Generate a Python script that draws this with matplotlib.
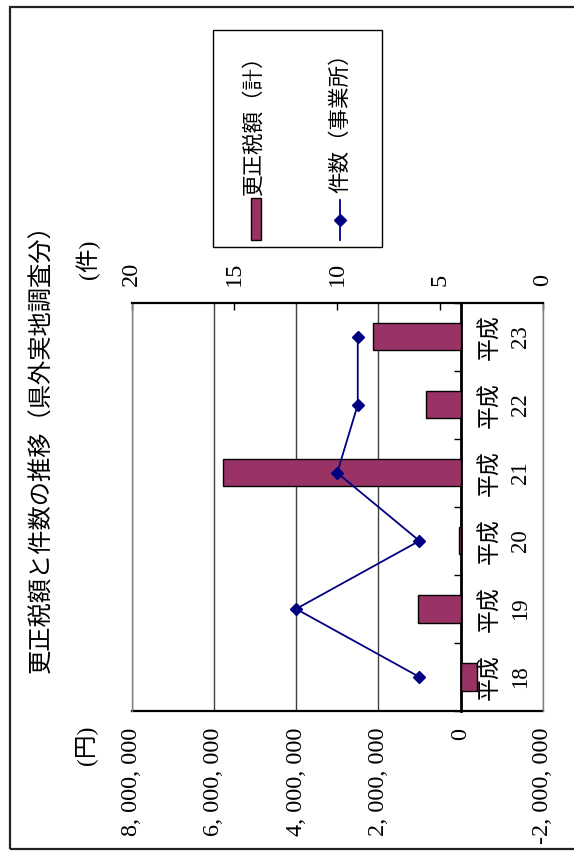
import numpy as np
import matplotlib
matplotlib.use("Agg")
import matplotlib.pyplot as plt
from matplotlib.patches import Rectangle
from matplotlib.lines import Line2D
from matplotlib.ticker import FixedLocator, FuncFormatter
from matplotlib.transforms import offset_copy

# ---- data -------------------------------------------------------------
categories = ["平成\n18", "平成\n19", "平成\n20", "平成\n21", "平成\n22", "平成\n23"]
tax_amount = [-405000, 1030000, 40000, 5770000, 830000, 2130000]   # 円
case_counts = [6, 12, 6, 10, 9, 9]                                  # 件
value_ticks = [-2000000, 0, 2000000, 4000000, 6000000, 8000000]
count_ticks = [0, 5, 10, 15, 20]

title = "更正税額と件数の推移（県外実地調査分）"
legend_labels = ["更正税額（計）", "件数（事業所）"]
unit_left = "(円)"
unit_right = "(件)"

# ---- styling ----------------------------------------------------------
BAR_COLOR = "#993366"
LINE_COLOR = "#000080"
CJK = ["Noto Sans CJK JP", "DejaVu Sans"]
NUM = ["Liberation Serif", "Noto Sans CJK JP"]
TICK_SIZE = 17.5

W, H = 574, 851
fig = plt.figure(figsize=(W / 100, H / 100), dpi=100)
fig.patch.set_facecolor("white")


def fx(px):
    return px / W


def fy(py):
    return 1 - py / H


def box(x0, y0, x1, y1):
    return [fx(x0), fy(y1), fx(x1) - fx(x0), fy(y0) - fy(y1)]


# outer chart frame
fig.add_artist(Rectangle((fx(10), fy(849)), fx(600) - fx(10), fy(7) - fy(849),
                         transform=fig.transFigure, fill=False,
                         edgecolor="#222222", lw=1.6))

# ---- main axes: amounts (horizontal bars, values grow to the left) ----
ax = fig.add_axes(box(131.7, 302.7, 542.7, 711))
pos = np.arange(len(categories))
ax.barh(pos, tax_amount, height=0.4, color=BAR_COLOR, edgecolor="black",
        lw=1.0, zorder=3)
ax.set_xlim(value_ticks[-1], value_ticks[0])
ax.set_ylim(-0.5, len(categories) - 0.5)

ax.xaxis.set_major_locator(FixedLocator(value_ticks))
ax.xaxis.set_major_formatter(
    FuncFormatter(lambda v, p: "{:,}".format(int(v)).replace(",", ", ")))
ax.tick_params(axis="x", which="major", direction="in", length=0, pad=12,
               labelsize=TICK_SIZE, labelrotation=90)
for t in ax.get_xticklabels():
    t.set_family(NUM)
ax.grid(axis="x", color="#404040", lw=1.0)
ax.set_axisbelow(True)

# category axis sits on the zero line
ax.spines["right"].set_position(("data", 0))
ax.spines["right"].set_color("black")
ax.spines["right"].set_linewidth(2.0)
ax.spines["left"].set_visible(False)
ax.spines["top"].set_visible(False)
ax.spines["bottom"].set_color("black")
ax.spines["bottom"].set_linewidth(1.6)
ax.yaxis.set_ticks_position("right")
ax.yaxis.set_major_locator(FixedLocator(np.arange(-0.5, len(categories), 1.0)))
ax.tick_params(axis="y", which="major", direction="in", length=5, width=1,
               labelright=False, labelleft=False)

label_tr = offset_copy(ax.transData, fig=fig, x=19, y=0, units="dots")
for i, lab in enumerate(categories):
    ax.text(0, pos[i], lab, transform=label_tr, rotation=90, ha="left",
            va="center", multialignment="center", fontsize=16.5,
            family=NUM, linespacing=1.5)

# ---- secondary axis: counts (line) ------------------------------------
ax2 = ax.twiny()
ax2.plot(case_counts, pos, color=LINE_COLOR, lw=1.3, marker="D",
         markersize=6.5, markerfacecolor=LINE_COLOR,
         markeredgecolor=LINE_COLOR, zorder=4)
ax2.set_xlim(count_ticks[-1], count_ticks[0])
ax2.xaxis.set_major_locator(FixedLocator(count_ticks))
ax2.tick_params(axis="x", direction="in", length=5, width=1, pad=12,
                labelsize=TICK_SIZE, labelrotation=90)
for t in ax2.get_xticklabels():
    t.set_family(NUM)
ax2.spines["top"].set_color("black")
ax2.spines["top"].set_linewidth(1.6)
ax2.spines["bottom"].set_visible(False)
for s in ("left", "right"):
    ax2.spines[s].set_color("#808080")
    ax2.spines[s].set_linewidth(1.0)

# ---- titles and unit labels -------------------------------------------
fig.text(fx(41), fy(443), title, rotation=90, ha="center", va="center",
         fontsize=17.5, family=CJK)
fig.text(fx(88), fy(259), unit_right, rotation=90, ha="center", va="center",
         fontsize=17, family=NUM)
fig.text(fx(86), fy(745), unit_left, rotation=90, ha="center", va="center",
         fontsize=17, family=NUM)

# ---- legend ------------------------------------------------------------
fig.add_artist(Rectangle((fx(213), fy(246.7)), fx(381.7) - fx(213),
                         fy(30) - fy(246.7), transform=fig.transFigure,
                         facecolor="white", edgecolor="black", lw=1.0))
fig.add_artist(Rectangle((fx(250.5), fy(240)), fx(260.5) - fx(250.5),
                         fy(198.5) - fy(240), transform=fig.transFigure,
                         facecolor=BAR_COLOR, edgecolor="black", lw=1.0))
fig.add_artist(Line2D([fx(340), fx(340)], [fy(200), fy(240)],
                      transform=fig.transFigure, color=LINE_COLOR, lw=1.3))
fig.add_artist(Line2D([fx(340)], [fy(220)], transform=fig.transFigure,
                      marker="D", markersize=6.5, color=LINE_COLOR, lw=0))
fig.text(fx(254), fy(195), legend_labels[0], rotation=90, ha="center",
         va="bottom", fontsize=15.5, family=CJK)
fig.text(fx(340), fy(193), legend_labels[1], rotation=90, ha="center",
         va="bottom", fontsize=15.5, family=CJK)

fig.savefig("out.png", dpi=100, facecolor="white")
